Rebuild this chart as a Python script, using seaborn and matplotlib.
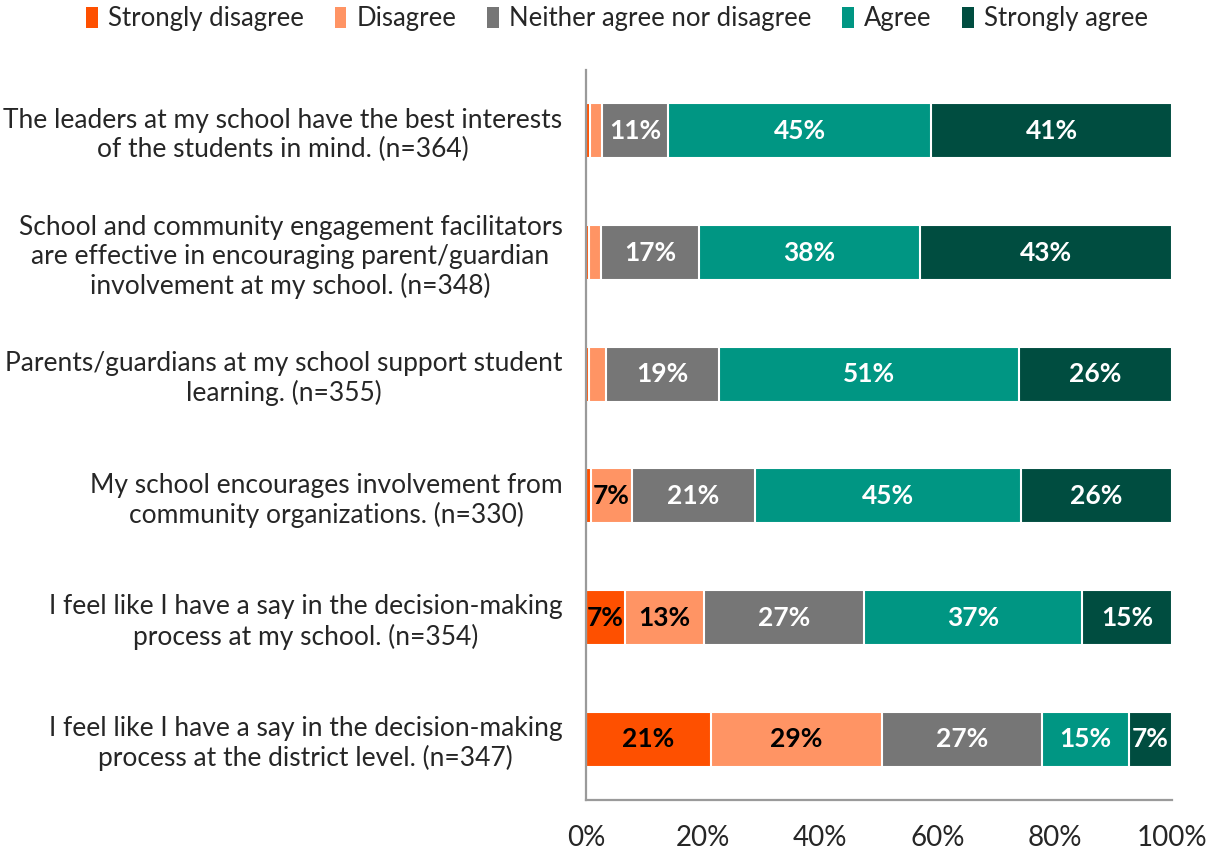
import matplotlib
matplotlib.use("Agg")
import matplotlib.pyplot as plt
from matplotlib.patches import Patch
import numpy as np
import pandas as pd
import seaborn as sns

# survey data (percent of respondents)
questions = [
    "The leaders at my school have the best interests\nof the students in mind. (n=364)",
    "School and community engagement facilitators\nare effective in encouraging parent/guardian\ninvolvement at my school. (n=348)",
    "Parents/guardians at my school support student\nlearning. (n=355)",
    "My school encourages involvement from\ncommunity organizations. (n=330)",
    "I feel like I have a say in the decision-making\nprocess at my school. (n=354)",
    "I feel like I have a say in the decision-making\nprocess at the district level. (n=347)",
]
levels = ["Strongly disagree", "Disagree", "Neither agree nor disagree", "Agree", "Strongly agree"]
strongly_disagree = [0.7, 0.5, 0.5, 0.9, 6.7, 21.3]
disagree = [2.0, 2.1, 2.9, 6.9, 13.4, 29.2]
neither = [11.3, 16.7, 19.3, 21.0, 27.3, 27.4]
agree = [44.9, 37.7, 51.2, 45.4, 37.2, 14.7]
strongly_agree = [41.1, 43.0, 26.1, 25.8, 15.4, 7.4]

colors = ["#FE5000", "#FF9464", "#767676", "#009683", "#004D40"]
text_colors = ["black", "black", "white", "white", "white"]

df = pd.DataFrame({"question": questions})
vals = np.array([strongly_disagree, disagree, neither, agree, strongly_agree])
cum = vals.cumsum(axis=0)
for i, lev in enumerate(levels):
    df[lev] = cum[i]

sns.set_style("white")
plt.rcParams["font.family"] = ["Lato", "DejaVu Sans"]

fig = plt.figure(figsize=(12.15, 8.5), dpi=100)
ax = fig.add_axes([0.4823, 0.0588, 0.4823, 0.8588])

# stacked bars: draw cumulative totals from the largest down
for i in range(len(levels) - 1, -1, -1):
    sns.barplot(data=df, x=levels[i], y="question", color=colors[i], width=0.45,
                edgecolor="white", linewidth=1.5, saturation=1, ax=ax)

for j in range(len(questions)):
    for i in range(len(levels)):
        v = vals[i, j]
        if v >= 5:
            ax.text(cum[i, j] - v / 2, j, f"{round(v):.0f}%", ha="center", va="center",
                    color=text_colors[i], fontsize=19, fontweight="bold")

ax.set_xlim(0, 100)
ax.set_ylim(5.5, -0.5)
ax.set_xticks(range(0, 101, 20))
ax.set_xticklabels([f"{t}%" for t in range(0, 101, 20)], fontsize=20)
ax.tick_params(axis="y", labelsize=19, pad=17, length=0)
ax.tick_params(axis="x", pad=18, length=0)
for lab in ax.get_yticklabels():
    lab.set_horizontalalignment("right")
    lab.set_multialignment("center")
ax.set_xlabel("")
ax.set_ylabel("")
for s in ["top", "right"]:
    ax.spines[s].set_visible(False)
for s in ["left", "bottom"]:
    ax.spines[s].set_color("#9A9A9A")
    ax.spines[s].set_linewidth(1.6)

handles = [Patch(facecolor=c, edgecolor="none") for c in colors]
fig.legend(handles, levels, loc="upper center", bbox_to_anchor=(0.508, 1.02), ncol=5,
           frameon=False, fontsize=18.5, handlelength=0.45, handleheight=0.9,
           handletextpad=0.4, columnspacing=1.2)

fig.savefig("out.png", dpi=100)
